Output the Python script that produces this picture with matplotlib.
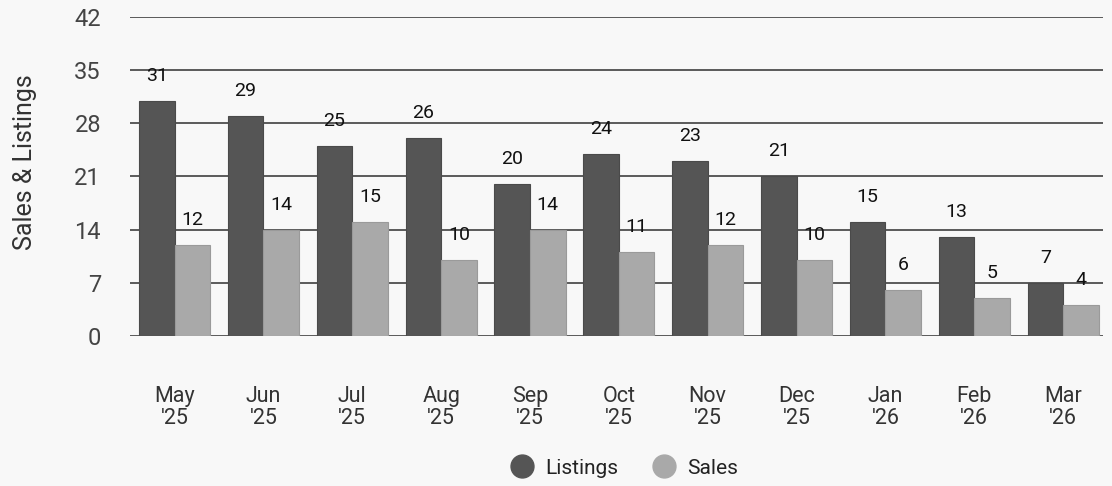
import matplotlib
matplotlib.use("Agg")
import matplotlib.pyplot as plt
import numpy as np
from matplotlib.lines import Line2D

plt.rcParams['font.family'] = ['Roboto', 'DejaVu Sans']

months = ["May\n'25", "Jun\n'25", "Jul\n'25", "Aug\n'25", "Sep\n'25", "Oct\n'25",
          "Nov\n'25", "Dec\n'25", "Jan\n'26", "Feb\n'26", "Mar\n'26"]
listings = [31, 29, 25, 26, 20, 24, 23, 21, 15, 13, 7]
sales = [12, 14, 15, 10, 14, 11, 12, 10, 6, 5, 4]
yticks = [0, 7, 14, 21, 28, 35, 42]

c_list = '#555555'
c_sales = '#a9a9a9'
bg = '#f8f8f8'

fig = plt.figure(figsize=(11.12, 4.86), dpi=100, facecolor=bg)
ax = fig.add_axes([0.117, 0.309, 0.875, 0.656], facecolor=bg)

x = np.arange(len(months))
w = 0.4
b1 = ax.bar(x - w/2, listings, width=w, color=c_list, edgecolor='#4a4a4a', linewidth=0.8, zorder=2)
b2 = ax.bar(x + w/2, sales, width=w, color=c_sales, edgecolor='#9a9a9a', linewidth=0.8, zorder=2)

for bars, vals in ((b1, listings), (b2, sales)):
    for r, v in zip(bars, vals):
        ax.annotate(str(v), (r.get_x() + r.get_width()/2, v), xytext=(0, 18),
                    textcoords='offset points', ha='center', va='center',
                    fontsize=14, color='#111111', zorder=3)

ax.set_ylim(0, 42)
ax.set_xlim(-0.5, 10.45)
ax.set_yticks(yticks)
ax.set_yticklabels([str(t) for t in yticks])
ax.set_xticks(x)
ax.set_xticklabels(months, fontsize=15.5, color='#333333', linespacing=1.05)
ax.yaxis.grid(True, color='#5a5a5a', linewidth=1.4, zorder=1)
ax.set_axisbelow(True)
ax.tick_params(axis='y', length=0, pad=21, labelsize=17, labelcolor='#444444')
ax.tick_params(axis='x', length=0, pad=36)
for s in ax.spines.values():
    s.set_visible(False)

ax.set_ylabel('Sales & Listings', fontsize=18, color='#333333')
ax.yaxis.set_label_coords(-0.096, 0.545)

handles = [Line2D([], [], marker='o', linestyle='none', markersize=16.5, color=c_list),
           Line2D([], [], marker='o', linestyle='none', markersize=16.5, color=c_sales)]
fig.legend(handles, ['Listings', 'Sales'], loc='center', bbox_to_anchor=(0.557, 0.037),
           ncol=2, frameon=False, fontsize=15, handletextpad=0.1, columnspacing=1.2,
           labelcolor='#222222')

fig.savefig('out.png', dpi=100, facecolor=bg)
